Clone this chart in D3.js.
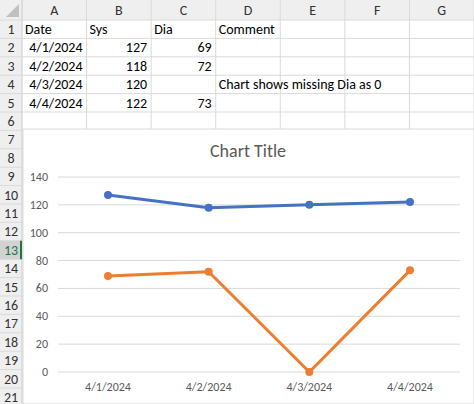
<!doctype html>
<html>
<head>
<style>body{margin:0;background:#fff;font-family:Calibri,Carlito,"Open Sans",sans-serif;}</style>
</head>
<body>
<script src="https://d3js.org/d3.v7.min.js"></script>
<script>
// sheet contents
var columns = ["A", "B", "C", "D", "E", "F", "G"];
var dates = ["4/1/2024", "4/2/2024", "4/3/2024", "4/4/2024"];
var sys = [127, 118, 120, 122];
var dia = [69, 72, null, 73];
var yTicks = [0, 20, 40, 60, 80, 100, 120, 140];

var W = 474, H = 404;
var svg = d3.select("body").append("svg").attr("width", W).attr("height", H);

// grid geometry
var headH = 20, rowH = 18.4, rowNumW = 22;
var colX = d3.scaleLinear().domain([0, 7]).range([rowNumW, W]);
var rowY = function(r) { return headH + rowH * (r - 1); };

svg.append("rect").attr("width", W).attr("height", headH).attr("fill", "#efefef");
svg.append("rect").attr("width", rowNumW).attr("height", H).attr("fill", "#efefef");

// cell grid lines
for (var c = 0; c <= 7; c++) {
    svg.append("line").attr("x1", colX(c)).attr("x2", colX(c)).attr("y1", 0).attr("y2", H)
        .attr("stroke", c == 0 ? "#c8c8c8" : "#dadada");
}
for (var r = 1; r <= 22; r++) {
    svg.append("line").attr("x1", 0).attr("x2", W).attr("y1", rowY(r)).attr("y2", rowY(r))
        .attr("stroke", "#dadada");
}
// top-left triangle
svg.append("path").attr("d", "M6,17L19,17L19,4Z").attr("fill", "#c0c0c0");

columns.forEach(function(name, i) {
    svg.append("text").attr("x", (colX(i) + colX(i + 1)) / 2).attr("y", 15)
        .attr("text-anchor", "middle").attr("font-size", 14).attr("fill", "#333").text(name);
});
// selected row 13
svg.append("rect").attr("x", 0).attr("y", rowY(13)).attr("width", rowNumW).attr("height", rowH).attr("fill", "#d2d2d2");
svg.append("line").attr("x1", rowNumW - 1).attr("x2", rowNumW - 1).attr("y1", rowY(13)).attr("y2", rowY(14))
    .attr("stroke", "#217346").attr("stroke-width", 2);
for (var r = 1; r <= 21; r++) {
    svg.append("text").attr("x", rowNumW / 2).attr("y", rowY(r) + 14).attr("text-anchor", "middle")
        .attr("font-size", 14).attr("fill", r == 13 ? "#217346" : "#333").text(r);
}

function cell(col, row, txt, right) {
    svg.append("text").attr("x", right ? colX(col + 1) - 4 : colX(col) + 3).attr("y", rowY(row) + 14)
        .attr("text-anchor", right ? "end" : "start").attr("font-size", 14).attr("fill", "#000").text(txt);
}
cell(0, 1, "Date"); cell(1, 1, "Sys"); cell(2, 1, "Dia"); cell(3, 1, "Comment");
dates.forEach(function(d, i) {
    cell(0, i + 2, d, true);
    cell(1, i + 2, sys[i], true);
    if (dia[i] != null) cell(2, i + 2, dia[i], true);
});
cell(3, 4, "Chart shows missing Dia as 0");

// chart object
var chart = svg.append("g");
chart.append("rect").attr("x", 23).attr("y", 129).attr("width", W - 23).attr("height", H - 129)
    .attr("fill", "#fff").attr("stroke", "#d9d9d9");
chart.append("text").attr("x", 248).attr("y", 157).attr("text-anchor", "middle")
    .attr("font-size", 18).attr("fill", "#595959").text("Chart Title");

var x = d3.scalePoint().domain(dates).range([108, 410]);
var y = d3.scaleLinear().domain([0, 140]).range([372, 177]);

chart.selectAll(".grid").data(yTicks).enter().append("line")
    .attr("x1", 58).attr("x2", 460).attr("y1", y).attr("y2", y).attr("stroke", "#d9d9d9");
chart.selectAll(".yl").data(yTicks).enter().append("text")
    .attr("x", 48).attr("y", function(d) { return y(d) + 4; }).attr("text-anchor", "end")
    .attr("font-size", 12).attr("fill", "#595959").text(function(d) { return d; });
chart.selectAll(".xl").data(dates).enter().append("text")
    .attr("x", function(d) { return x(d); }).attr("y", 391).attr("text-anchor", "middle")
    .attr("font-size", 12).attr("fill", "#595959").text(function(d) { return d; });

// missing value plotted as 0, as Excel does
var series = [
    { vals: sys, color: "#4472c4" },
    { vals: dia.map(function(v) { return v == null ? 0 : v; }), color: "#ed7d31" }
];
var line = d3.line().x(function(d, i) { return x(dates[i]); }).y(function(d) { return y(d); });
series.forEach(function(s) {
    chart.append("path").attr("d", line(s.vals)).attr("fill", "none")
        .attr("stroke", s.color).attr("stroke-width", 3).attr("stroke-linejoin", "round");
    chart.selectAll(null).data(s.vals).enter().append("circle")
        .attr("cx", function(d, i) { return x(dates[i]); }).attr("cy", y).attr("r", 4)
        .attr("fill", s.color);
});
</script>
</body>
</html>
